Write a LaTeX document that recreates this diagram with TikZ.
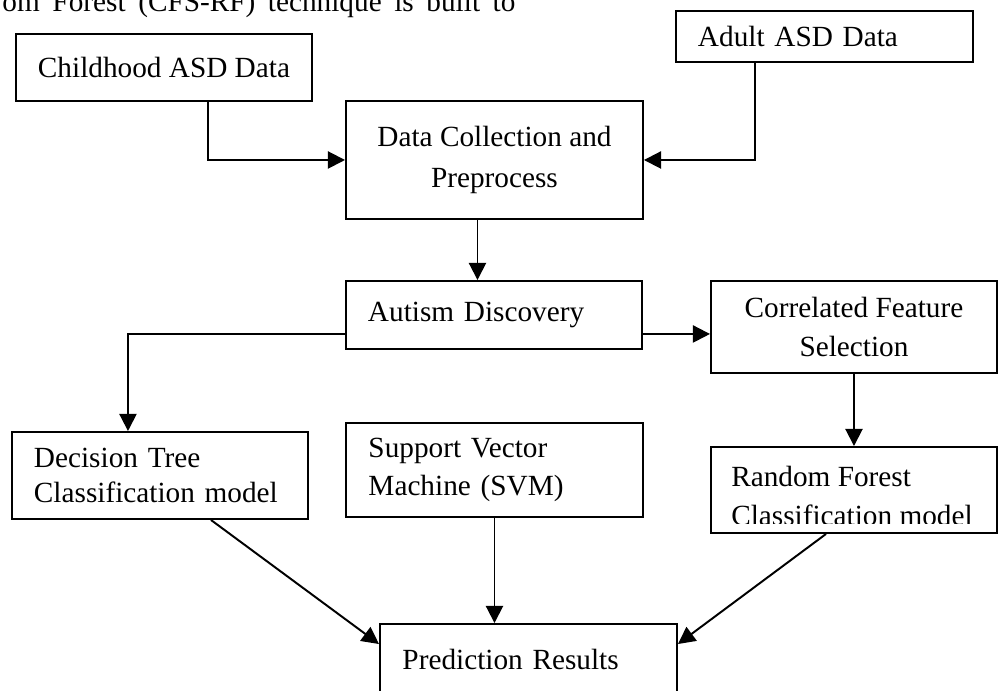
\documentclass[tikz,border=0pt]{standalone}
\usepackage{fontspec}
\setmainfont{Liberation Serif}
\usetikzlibrary{arrows.meta,positioning}
\newlength\pxu
\setlength\pxu{0.41pt}
\tikzset{
  blk/.style={draw, line width=0.8pt, inner sep=0pt, anchor=north west, font=\fontsize{12}{14}\selectfont},
  lblk/.style={blk, align=left, text width=252*\pxu},
  arr/.style={-{Triangle[length=7pt,width=7pt]}, line width=0.8pt}
}

\begin{document}
\begin{tikzpicture}[x=0.41pt,y=-0.41pt]
    \useasboundingbox (0,0) rectangle (998,690);
    \node[anchor=base west, inner sep=0pt, font=\fontsize{12}{14}\selectfont] (intro) at (2,11)
        {\makebox[513\pxu][s]{om Forest (CFS-RF) technique is built to}};

    % boxes
    \node[blk, align=center, minimum width=296*\pxu, minimum height=67*\pxu] (child) at (15,33) {Childhood ASD Data};
    \node[lblk, text width=253*\pxu, minimum width=297*\pxu, minimum height=51*\pxu] (adult) at (675,10) {Adult ASD Data};
    \node[blk, align=center, minimum width=297*\pxu, minimum height=118*\pxu] (dcp) at (345,100) {Data Collection and\\[3pt]Preprocess};
    \node[lblk, minimum width=296*\pxu, minimum height=68*\pxu] (autism) at (345,280) {Autism Discovery};
    \node[blk, align=center, minimum width=286*\pxu, minimum height=92*\pxu] (cfs) at (710,280) {Correlated Feature\\[2pt]Selection};
    \node[lblk, minimum width=296*\pxu, minimum height=87*\pxu] (dt) at (11,431) {Decision Tree\\Classification model};
    \node[lblk, minimum width=297*\pxu, minimum height=94*\pxu] (svm) at (345,422) {Support Vector\\[1.6pt]Machine (SVM)};
    \node[blk, minimum width=286*\pxu, minimum height=86*\pxu, path picture={
        \clip (path picture bounding box.north west) rectangle ([yshift=9*\pxu]path picture bounding box.south east);
        \node[anchor=north west, align=left, inner sep=0pt, font=\fontsize{12}{16}\selectfont]
            at ([shift={(-3*\pxu,-5*\pxu)}]path picture bounding box.north west) {Random Forest\\Classification model};
    }] (rf) at (710,446) {};
    \node[lblk, minimum width=297*\pxu, minimum height=70*\pxu] (pred) at (379,623) {Prediction Results};

    % connectors
    \draw[arr] ([xshift=44*\pxu]child.south) |- (dcp.west);
    \draw[arr] ([xshift=80*\pxu]adult.south west) |- (dcp.east);
    \draw[arr] ([xshift=-17*\pxu]dcp.south) coordinate (d1) -- (d1 |- autism.north);
    \draw[arr] ([yshift=16*\pxu]autism.south west) -| ([xshift=-32*\pxu]dt.north);
    \draw[arr] ([yshift=16*\pxu]autism.south east) coordinate (a1) -- (a1 -| cfs.west);
    \draw[arr] (cfs.south) -- (rf.north);
    \draw[arr] (svm.south) -- (svm.south |- pred.north);
    \draw[arr] ([xshift=51*\pxu]dt.south) -- ([yshift=-21*\pxu]pred.north west);
    \draw[arr] ([xshift=-28*\pxu]rf.south) -- ([yshift=-21*\pxu]pred.north east);
\end{tikzpicture}
\end{document}
